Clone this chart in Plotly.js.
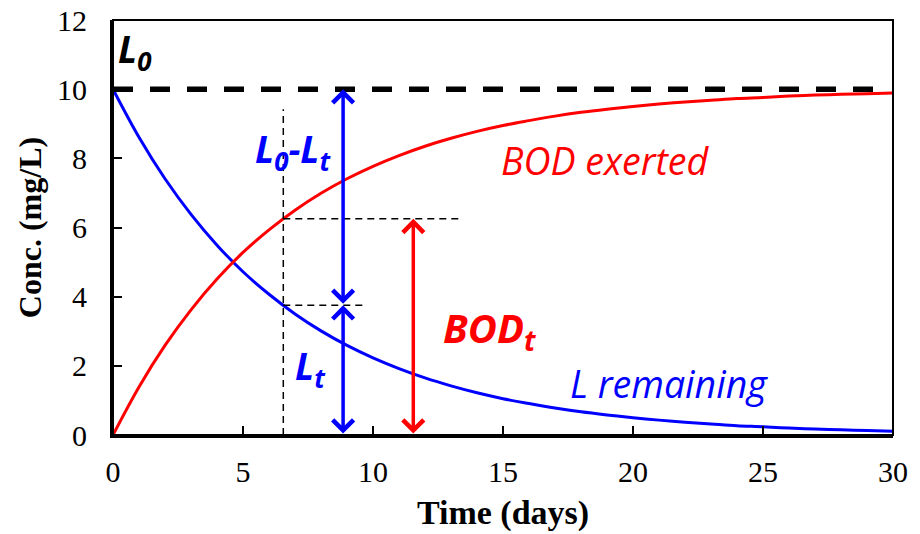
<!DOCTYPE html>
<html><head><meta charset="utf-8">
<script src="https://cdn.plot.ly/plotly-3.0.1.min.js"></script>
<style>html,body{margin:0;padding:0;background:#fff}</style>
</head><body><div id="chart" style="width:920px;height:534px"></div>
<script>
// Data
const days = [0,1,2,3,4,5,6,7,8,9,10,11,12,13,14,15,16,17,18,19,20,21,22,23,24,25,26,27,28,29,30];
const lRemaining = [10.00,8.61,7.41,6.38,5.49,4.72,4.07,3.50,3.01,2.59,2.23,1.92,1.65,1.42,1.22,1.05,0.91,0.78,0.67,0.58,0.50,0.43,0.37,0.32,0.27,0.24,0.20,0.17,0.15,0.13,0.11];
const bodExerted = [0.00,1.39,2.59,3.62,4.51,5.28,5.93,6.50,6.99,7.41,7.77,8.08,8.35,8.58,8.78,8.95,9.09,9.22,9.33,9.42,9.50,9.57,9.63,9.68,9.73,9.76,9.80,9.83,9.85,9.87,9.89];
const ultimateL0 = [10, 10];
const ultimateSpan = [0, 29.6];
const markDay = 6.55;
const markLt = 3.75;
const markBod = 6.25;
const markTop = 9.42;
const blueArrowDay = 8.85;
const redArrowDay = 11.55;
const bodGuideEnd = 13.3;
const ltGuideEnd = 9.6;
const xTicks = [0,5,10,15,20,25,30];
const yTicks = [0,2,4,6,8,10,12];

const BLUE = '#0000FF', RED = '#FF0000';
const lab = 'Open Sans';
const serif = 'Liberation Serif';

const traces = [
  {x: days, y: lRemaining, mode:'lines', line:{color:BLUE, width:3, shape:'spline'}, hoverinfo:'skip'},
  {x: days, y: bodExerted, mode:'lines', line:{color:RED, width:3, shape:'spline'}, hoverinfo:'skip'},
  {x: ultimateSpan, y: ultimateL0, mode:'lines', line:{color:'#000', width:5.5, dash:'20px,17px'}, hoverinfo:'skip'},
  {x: [markDay, markDay], y: [0, markTop], mode:'lines', line:{color:'#000', width:1.5, dash:'7px,5px'}, hoverinfo:'skip'},
  {x: [markDay, bodGuideEnd], y: [markBod, markBod], mode:'lines', line:{color:'#000', width:1.5, dash:'7px,5px'}, hoverinfo:'skip'},
  {x: [markDay, ltGuideEnd], y: [markLt, markLt], mode:'lines', line:{color:'#000', width:1.5, dash:'7px,5px'}, hoverinfo:'skip'}
];

function dblArrow(xv, y1, y2, color){
  return {x:xv, y:y2, ax:xv, ay:y1, xref:'x', yref:'y', axref:'x', ayref:'y', text:'',
    showarrow:true, arrowhead:4, startarrowhead:4, arrowside:'end+start',
    arrowwidth:3.5, arrowsize:1.15, startarrowsize:1.15, arrowcolor:color, standoff:0, startstandoff:0};
}
function label(txt, xv, yv, color, size, xanchor){
  return {x:xv, y:yv, xref:'x', yref:'y', text:txt, showarrow:false, xanchor:xanchor||'center', yanchor:'middle',
    font:{family:lab, size:size, color:color}};
}

const annotations = [
  dblArrow(blueArrowDay, markLt, ultimateL0[0], BLUE),
  dblArrow(blueArrowDay, 0, markLt, BLUE),
  dblArrow(redArrowDay, 0, markBod, RED),
  label('<b><i>L<sub>0</sub></i></b>', 0.1, 11.1, '#000', 37, 'left'),
  label('<b><i>L<sub>0</sub>-L<sub>t</sub></i></b>', 6.95, 8.2, BLUE, 37),
  label('<b><i>L<sub>t</sub></i></b>', 7.58, 1.95, BLUE, 37),
  label('<b><i>BOD<sub>t</sub></i></b>', 14.5, 3.05, RED, 40),
  label('<i>BOD exerted</i>', 18.96, 7.95, RED, 37.5),
  label('<i>L remaining</i>', 21.4, 1.5, BLUE, 37.5)
];

const layout = {
  width:920, height:534,
  margin:{l:113, r:27, t:20, b:99},
  paper_bgcolor:'#fff', plot_bgcolor:'#fff',
  showlegend:false,
  xaxis:{range:[0,30], tickvals:xTicks, ticktext:xTicks.map(String), ticks:'inside', ticklen:9, tickwidth:2, tickcolor:'#000',
    showline:true, linewidth:3, linecolor:'#000', showgrid:false, zeroline:false, ticklabelstandoff:8,
    tickfont:{family:serif, size:30, color:'#000'},
    title:{text:'<b>Time (days)</b>', font:{family:serif, size:34, color:'#000'}, standoff:14}},
  yaxis:{range:[0,12], tickvals:yTicks, ticktext:yTicks.map(String), ticks:'inside', ticklen:9, tickwidth:2, tickcolor:'#000',
    showline:true, linewidth:3, linecolor:'#000', showgrid:false, zeroline:false, ticklabelstandoff:17,
    tickfont:{family:serif, size:30, color:'#000'},
    title:{text:'<b>Conc. (mg/L)</b>', font:{family:serif, size:32, color:'#000'}, standoff:6}},
  shapes:[{type:'rect', xref:'paper', yref:'paper', x0:0, x1:1, y0:0, y1:1, line:{color:'#000', width:2}}],
  annotations: annotations
};

Plotly.newPlot('chart', traces, layout, {displayModeBar:false, staticPlot:true});
</script></body></html>
